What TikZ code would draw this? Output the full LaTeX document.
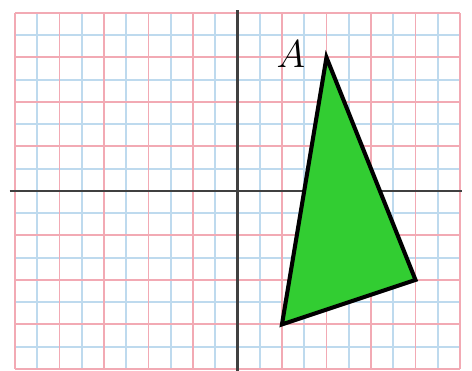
\documentclass[tikz,border=0pt]{standalone}
\usepackage{amsmath}
\usepackage{tikz}

\definecolor{gridred}{RGB}{242,170,180}
\definecolor{gridblue}{RGB}{190,218,238}
\definecolor{trigreen}{RGB}{50,205,50}

\begin{document}
\begin{tikzpicture}[x=1cm, y=1cm,
    minorgrid/.style={gridblue, line width=1.1pt},
    majorgrid/.style={gridred, line width=1.2pt},
    axisline/.style={black!75, line width=1.5pt},
    triangle/.style={draw=black, fill=trigreen, line width=2.6pt, line join=miter}]
    \useasboundingbox (-5.336,-4.045) rectangle (5.27,4.29);
    \draw[minorgrid, step=0.5] (-5,-4) grid (5,4);
    \draw[majorgrid, step=1] (-5,-4) grid (5,4);
    \coordinate (xl) at (-5.12,0);
    \coordinate (xr) at (5.05,0);
    \coordinate (yt) at (0,4.06);
    \coordinate (yb) at (0,-4.1);
    \draw[axisline] (xl) -- (xr);
    \draw[axisline] (yt) -- (yb);
    \coordinate (A) at (2,3);
    \coordinate (B) at (4,-2);
    \coordinate (C) at (1,-3);
    \draw[triangle] (A) -- (B) -- (C) -- cycle;
    \node (labelA) at (1.2,3.08) {\fontsize{34}{40}\selectfont $A$};
  \end{tikzpicture}
\end{document}
